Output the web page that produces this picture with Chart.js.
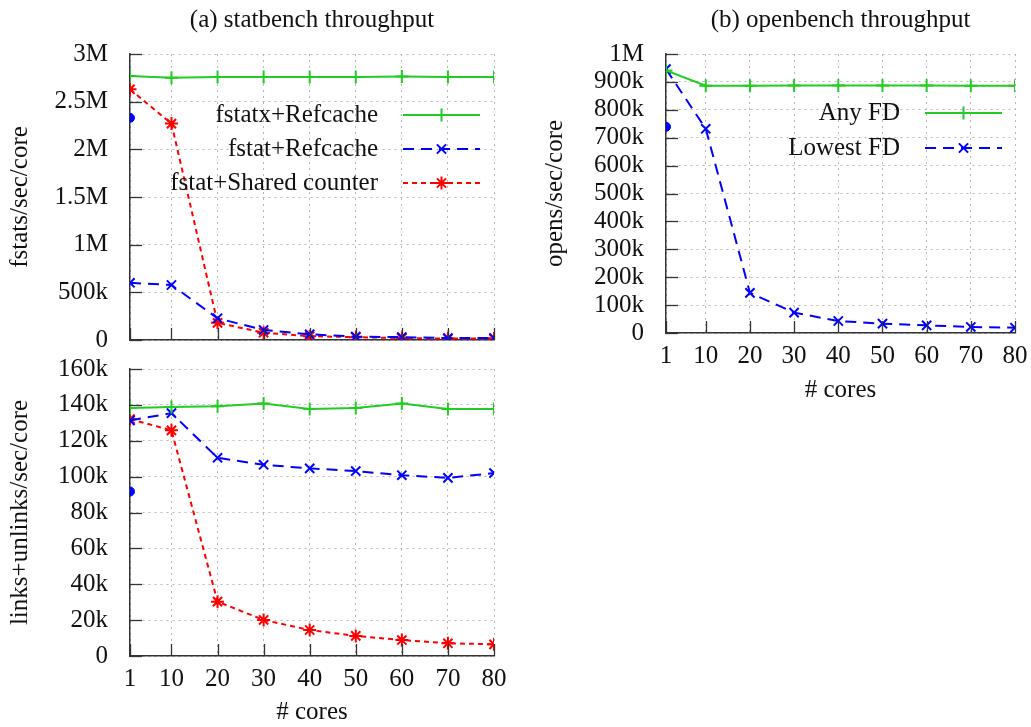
<!DOCTYPE html>
<html>
<head>
<meta charset="utf-8">
<script src="https://cdn.jsdelivr.net/npm/chart.js@4/dist/chart.umd.min.js"></script>
<style>
  html, body { margin: 0; padding: 0; background: #fff; }
  body { width: 1031px; height: 727px; position: relative; overflow: hidden; }
  .panel { position: absolute; }
</style>
</head>
<body>
<div class="panel" style="left:0;top:0;width:520px;height:350px"><canvas id="cA"></canvas></div>
<div class="panel" style="left:0;top:350px;width:520px;height:377px"><canvas id="cB"></canvas></div>
<div class="panel" style="left:535px;top:0;width:496px;height:420px"><canvas id="cC"></canvas></div>
<script>
// ---------- data ----------
const cores = [1, 10, 20, 30, 40, 50, 60, 70, 80];
const xTicks = [1, 10, 20, 30, 40, 50, 60, 70, 80];

// (a) statbench: fstats/sec/core
const statFstatxRefcache = [2770000, 2750000, 2760000, 2760000, 2760000, 2760000, 2765000, 2760000, 2760000];
const statFstatRefcache  = [600000, 577000, 228000, 105000, 60000, 35000, 30000, 20000, 20000];
const statFstatShared    = [2630000, 2270000, 180000, 77000, 40000, 30000, 20000, 15000, 15000];
const statSingleCore     = [2330000];
const statYTicks = [0, 500000, 1000000, 1500000, 2000000, 2500000, 3000000];

// (a) links+unlinks/sec/core
const linkFstatxRefcache = [138200, 138800, 139300, 140700, 137700, 138200, 140700, 137700, 137700];
const linkFstatRefcache  = [131300, 135400, 110500, 106600, 104600, 103100, 100800, 99300, 102000];
const linkFstatShared    = [132100, 125800, 30300, 20100, 14500, 11200, 8900, 7100, 6500];
const linkSingleCore     = [91700];
const linkYTicks = [0, 20000, 40000, 60000, 80000, 100000, 120000, 140000, 160000];

// (b) openbench: opens/sec/core
const openAnyFD    = [941000, 886000, 886000, 887000, 887000, 887000, 887000, 886000, 886000];
const openLowestFD = [946000, 732000, 144000, 73000, 43000, 33500, 27500, 21600, 19000];
const openSingleCore = [739000];
const openYTicks = [0, 100000, 200000, 300000, 400000, 500000, 600000, 700000, 800000, 900000, 1000000];

const labelsA = ['fstatx+Refcache', 'fstat+Refcache', 'fstat+Shared counter'];
const labelsB = ['Any FD', 'Lowest FD'];

// ---------- styling ----------
const FONT = "'Liberation Serif', 'DejaVu Serif', serif";
const FS = 25;
const GREEN = '#22cc22', BLUE = '#0000ff', RED = '#ff0000';

function fmt(v) {
  if (v === 0) return '0';
  if (v >= 1000000) return (v / 1000000) + 'M';
  return (v / 1000) + 'k';
}
const pts = (ys) => cores.map((c, i) => ({ x: c, y: ys[i] }));

function lineDs(label, ys, kind) {
  const base = { label, data: pts(ys), borderWidth: 2, pointRadius: 6.5, pointBorderWidth: 2,
    pointHoverRadius: 6.5, fill: false, tension: 0, backgroundColor: 'transparent' };
  if (kind === 'green') Object.assign(base, { borderColor: GREEN, pointBorderColor: GREEN, pointStyle: 'cross', borderDash: [] });
  if (kind === 'blue') Object.assign(base, { borderColor: BLUE, pointBorderColor: BLUE, pointStyle: 'crossRot', borderDash: [11, 7] });
  if (kind === 'red') Object.assign(base, { borderColor: RED, pointBorderColor: RED, pointStyle: 'star', borderDash: [5, 4] });
  return base;
}
function dotDs(ys) {
  return { label: '_single', data: ys.map(v => ({ x: 1, y: v })), showLine: false, pointStyle: 'circle',
    pointRadius: 4.5, pointBackgroundColor: BLUE, pointBorderColor: BLUE, borderColor: BLUE, backgroundColor: BLUE };
}

// inward ticks + panel title + custom legend (text left of sample)
const deco = {
  id: 'deco',
  afterDatasetsDraw(chart, args, o) {
    const ctx = chart.ctx, ca = chart.chartArea;
    ctx.save();
    ctx.strokeStyle = '#333'; ctx.lineWidth = 1.3;
    const xs = chart.scales.x, ys = chart.scales.y;
    xs.ticks.forEach(t => { const px = Math.round(xs.getPixelForValue(t.value)) + 0.5;
      ctx.beginPath(); ctx.moveTo(px, ca.bottom); ctx.lineTo(px, ca.bottom - 12); ctx.stroke(); });
    ys.ticks.forEach(t => { const py = Math.round(ys.getPixelForValue(t.value)) + 0.5;
      ctx.beginPath(); ctx.moveTo(ca.left, py); ctx.lineTo(ca.left + 12, py); ctx.stroke(); });
    ctx.restore();
    if (o.title) {
      ctx.save(); ctx.font = FS + 'px ' + FONT; ctx.fillStyle = '#111'; ctx.textAlign = 'center'; ctx.textBaseline = 'middle';
      ctx.fillText(o.title, (ca.left + ca.right) / 2, ca.top + o.titleDy);
      ctx.restore();
    }
    if (o.legend) {
      const L = o.legend;
      chart.data.datasets.forEach((ds, i) => {
        if (ds.label === '_single') return;
        const y = ca.top + L.dy + i * L.step;
        ctx.save();
        ctx.font = FS + 'px ' + FONT; ctx.fillStyle = '#111'; ctx.textAlign = 'right'; ctx.textBaseline = 'middle';
        ctx.fillText(ds.label, ca.left + L.dx, y);
        const x0 = ca.left + L.dx + L.gap, x1 = x0 + L.len;
        ctx.strokeStyle = ds.borderColor; ctx.lineWidth = 2; ctx.setLineDash(ds.borderDash || []);
        ctx.beginPath(); ctx.moveTo(x0, y); ctx.lineTo(x1, y); ctx.stroke();
        ctx.setLineDash([]);
        Chart.helpers.drawPoint(ctx, { pointStyle: ds.pointStyle, radius: 6.5, borderWidth: 2, rotation: 0 }, (x0 + x1) / 2, y);
        ctx.restore();
      });
    }
  }
};

function makeChart(id, datasets, yMax, yTicks, opts) {
  return new Chart(document.getElementById(id), {
    type: 'line',
    data: { datasets },
    plugins: [deco],
    options: {
      responsive: true, maintainAspectRatio: false, animation: false,
      layout: { padding: { top: opts.padTop, right: opts.padRight, left: 0, bottom: 0 } },
      plugins: { legend: { display: false }, tooltip: { enabled: false },
        deco: { title: opts.title, titleDy: -34, legend: opts.legend } },
      scales: {
        x: {
          type: 'linear', min: 1, max: 80,
          afterBuildTicks: s => { s.ticks = xTicks.map(v => ({ value: v })); },
          afterFit: s => { s.height = opts.xHeight; s.paddingLeft = 0; s.paddingRight = 0; },
          grid: { color: '#b8b8b8', lineWidth: 1, drawTicks: false },
          border: { display: true, color: '#333', width: 1.5, dash: [2, 4] },
          ticks: { display: opts.showX, autoSkip: false, padding: 8, color: '#111', font: { family: FONT, size: FS }, maxRotation: 0 },
          title: { display: opts.showX, text: '# cores', color: '#111', font: { family: FONT, size: FS }, padding: { top: 0, bottom: opts.xTitlePad } }
        },
        y: {
          type: 'linear', min: 0, max: yMax,
          afterBuildTicks: s => { s.ticks = yTicks.map(v => ({ value: v })); },
          afterFit: s => { s.width = opts.yWidth; s.paddingTop = 0; s.paddingBottom = 0; },
          grid: { color: '#b8b8b8', lineWidth: 1, drawTicks: false },
          border: { display: true, color: '#333', width: 1.5, dash: [2, 4] },
          ticks: { autoSkip: false, padding: 22, color: '#111', font: { family: FONT, size: FS }, callback: v => fmt(v) },
          title: { display: true, text: opts.yTitle, color: '#111', font: { family: FONT, size: FS }, padding: { top: 5, bottom: 0 } }
        }
      }
    }
  });
}

makeChart('cA', [
  lineDs(labelsA[0], statFstatxRefcache, 'green'),
  lineDs(labelsA[1], statFstatRefcache, 'blue'),
  lineDs(labelsA[2], statFstatShared, 'red'),
  dotDs(statSingleCore)
], 3000000, statYTicks, {
  padTop: 54, padRight: 26, xHeight: 10, yWidth: 130, showX: false, xTitlePad: 0,
  title: '(a) statbench throughput', yTitle: 'fstats/sec/core',
  legend: { dx: 248, dy: 61, step: 34, gap: 25, len: 77 }
});

makeChart('cB', [
  lineDs(labelsA[0], linkFstatxRefcache, 'green'),
  lineDs(labelsA[1], linkFstatRefcache, 'blue'),
  lineDs(labelsA[2], linkFstatShared, 'red'),
  dotDs(linkSingleCore)
], 160000, linkYTicks, {
  padTop: 19, padRight: 26, xHeight: 71, yWidth: 130, showX: true, xTitlePad: 0,
  title: null, yTitle: 'links+unlinks/sec/core', legend: null
});

makeChart('cC', [
  lineDs(labelsB[0], openAnyFD, 'green'),
  lineDs(labelsB[1], openLowestFD, 'blue'),
  dotDs(openSingleCore)
], 1000000, openYTicks, {
  padTop: 54, padRight: 16, xHeight: 87, yWidth: 131, showX: true, xTitlePad: 15,
  title: '(b) openbench throughput', yTitle: 'opens/sec/core',
  legend: { dx: 234, dy: 59, step: 35, gap: 25, len: 77 }
});
</script>
</body>
</html>
